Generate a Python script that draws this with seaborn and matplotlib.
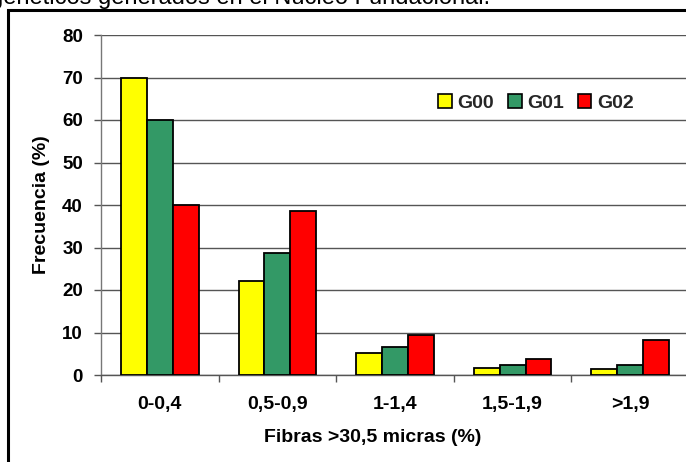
import matplotlib
matplotlib.use("Agg")
import matplotlib.pyplot as plt
import matplotlib.patches as mpatches
import seaborn as sns
import pandas as pd

categories = ["0-0,4", "0,5-0,9", "1-1,4", "1,5-1,9", ">1,9"]
g00 = [70.0, 22.1, 5.1, 1.7, 1.3]
g01 = [60.0, 28.6, 6.6, 2.4, 2.3]
g02 = [40.0, 38.7, 9.4, 3.7, 8.3]
groups = ["G00", "G01", "G02"]
colors = ["#FFFF00", "#339966", "#FF0000"]

rows = []
for grp, vals in zip(groups, [g00, g01, g02]):
    for cat, v in zip(categories, vals):
        rows.append({"cat": cat, "grupo": grp, "valor": v})
df = pd.DataFrame(rows)

sns.set_theme(style="white")
plt.rcParams["font.family"] = ["Liberation Sans", "DejaVu Sans"]

W, H = 686, 462
fig = plt.figure(figsize=(W / 100, H / 100), dpi=100)
ax = fig.add_axes([101 / W, 1 - 375 / H, 588 / W, 340 / H])

sns.barplot(data=df, x="cat", y="valor", hue="grupo", order=categories,
            hue_order=groups, palette=colors, width=0.66, gap=0,
            edgecolor="black", linewidth=1.3, saturation=1, ax=ax, zorder=3)

ax.set_ylim(0, 80)
ax.set_xlim(-0.5, 4.5)
ax.set_yticks(range(0, 81, 10))
ax.yaxis.grid(True, color="#555555", linewidth=1.0, zorder=0)
ax.set_axisbelow(True)

for s in ["top", "right"]:
    ax.spines[s].set_visible(False)
ax.spines["left"].set_color("#777777")
ax.spines["bottom"].set_color("#555555")
ax.spines["left"].set_linewidth(1.0)
ax.spines["bottom"].set_linewidth(1.0)

ax.tick_params(axis="y", which="major", direction="out", length=5, width=1,
               color="#555555", left=True, labelsize=13.5, pad=8)
ax.set_xticks(range(len(categories)))
ax.set_xticklabels(categories)
ax.set_xticks([-0.5, 0.5, 1.5, 2.5, 3.5, 4.5], minor=True)
ax.tick_params(axis="x", which="major", length=0, labelsize=14, pad=15)
ax.tick_params(axis="x", which="minor", direction="out", length=5, width=1,
               color="#555555", bottom=True)
for lab in ax.get_xticklabels() + ax.get_yticklabels():
    lab.set_fontweight("bold")
    lab.set_color("black")

ax.set_xlabel("Fibras >30,5 micras (%)", fontsize=14, fontweight="bold",
              color="black")
ax.xaxis.set_label_coords((373 - 101) / 588, -(437 - 375) / 340)
ax.xaxis.label.set_va("center")
ax.set_ylabel("Frecuencia (%)", fontsize=14, fontweight="bold",
              color="black")
ax.yaxis.set_label_coords(-(101 - 42) / 588, 0.5)
ax.yaxis.label.set_va("center")

leg = ax.legend(loc="center", bbox_to_anchor=(536 / W, 1 - 103 / H),
                bbox_transform=fig.transFigure, ncol=3, frameon=False,
                handlelength=0.7, handleheight=0.7, handletextpad=0.3,
                columnspacing=0.7, prop={"weight": "bold", "size": 14})
for h in leg.legend_handles:
    h.set_edgecolor("black")
    h.set_linewidth(1.2)

# outer frame of the figure box
fig.patches.append(mpatches.Rectangle((8 / W, -0.1), 1.2, 1.1 - 10 / H,
                                      transform=fig.transFigure, fill=False,
                                      edgecolor="black", linewidth=2.2))

fig.text(490 / W, 1 - 4 / H, "genéticos generados en el Núcleo Fundacional.",
         fontsize=17, va="baseline", ha="right", color="black")

fig.savefig("out.png", dpi=100)
